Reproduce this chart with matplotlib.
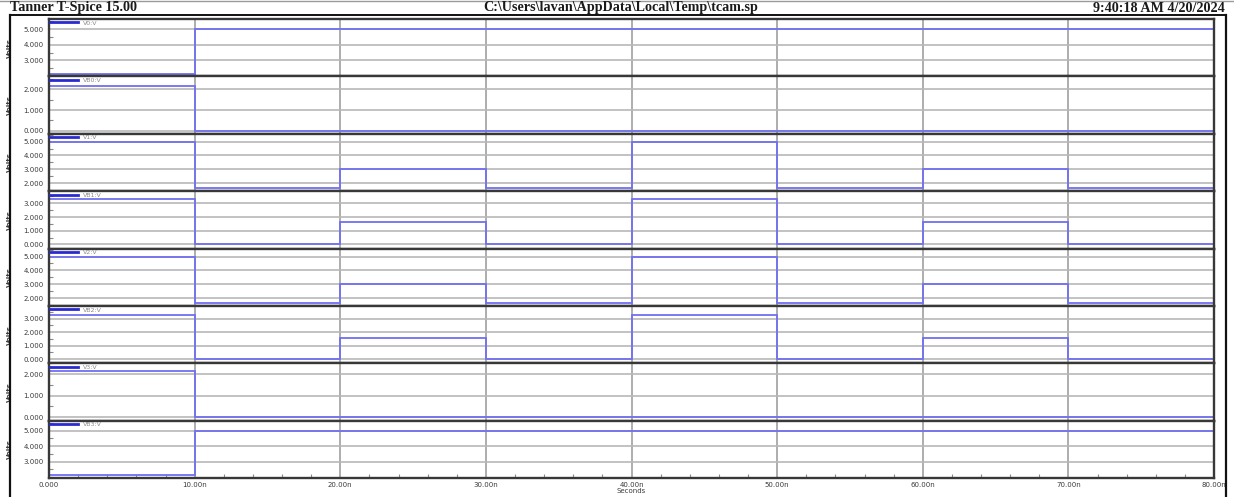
import matplotlib
matplotlib.use("Agg")
import matplotlib.pyplot as plt
from matplotlib.lines import Line2D
from matplotlib.ticker import FixedLocator, MultipleLocator, FuncFormatter

# Simulation time breakpoints (ns) and the level held in each 10 ns interval
time_ns = [0, 10, 20, 30, 40, 50, 60, 70, 80]

v0 = [2.15, 5.0, 5.0, 5.0, 5.0, 5.0, 5.0, 5.0]
vb0 = [2.15, 0.0, 0.0, 0.0, 0.0, 0.0, 0.0, 0.0]
v1 = [5.0, 1.65, 3.0, 1.65, 5.0, 1.65, 3.0, 1.65]
vb1 = [3.3, 0.0, 1.6, 0.0, 3.3, 0.0, 1.6, 0.0]
v2 = [5.0, 1.65, 3.0, 1.65, 5.0, 1.65, 3.0, 1.65]
vb2 = [3.3, 0.0, 1.6, 0.0, 3.3, 0.0, 1.6, 0.0]
v3 = [2.15, 0.0, 0.0, 0.0, 0.0, 0.0, 0.0, 0.0]
vb3 = [2.13, 5.0, 5.0, 5.0, 5.0, 5.0, 5.0, 5.0]

trace_names = ["V0:V", "VB0:V", "V1:V", "VB1:V", "V2:V", "VB2:V", "V3:V", "VB3:V"]
traces = [v0, vb0, v1, vb1, v2, vb2, v3, vb3]

# Per-panel y tick values and axis ranges
y_ticks = [
    [3, 4, 5], [0, 1, 2], [2, 3, 4, 5], [0, 1, 2, 3],
    [2, 3, 4, 5], [0, 1, 2, 3], [0, 1, 2], [3, 4, 5],
]
y_limits = [
    (1.98, 5.65), (-0.15, 2.63), (1.41, 5.58), (-0.30, 3.89),
    (1.44, 5.58), (-0.30, 3.94), (-0.16, 2.50), (1.95, 5.65),
]
x_ticks = [0, 10, 20, 30, 40, 50, 60, 70, 80]

W, H = 1234, 497
fig = plt.figure(figsize=(W / 100, H / 100), dpi=100)
fig.patch.set_facecolor("white")

gs = fig.add_gridspec(
    8, 1, left=49 / W, right=1214 / W, top=1 - 19 / H, bottom=1 - 478 / H, hspace=0
)

trace_color = "#7070f0"
frame_color = "#383838"

for i, (name, vals) in enumerate(zip(trace_names, traces)):
    ax = fig.add_subplot(gs[i, 0])
    ax.set_axisbelow(True)
    ax.plot(time_ns, vals + [vals[-1]], drawstyle="steps-post",
            color=trace_color, lw=1.3, solid_joinstyle="miter")
    ax.set_xlim(0, 80)
    ax.set_ylim(*y_limits[i])

    ax.yaxis.set_major_locator(FixedLocator(y_ticks[i]))
    ax.yaxis.set_minor_locator(MultipleLocator(0.5))
    ax.yaxis.set_major_formatter(FuncFormatter(lambda v, p: f"{v:.3f}"))
    ax.set_xticks(x_ticks)
    ax.xaxis.set_minor_locator(MultipleLocator(2))

    ax.grid(axis="y", which="major", color="#b8b8b8", lw=1.2)
    ax.grid(axis="x", which="major", color="#a0a0a0", lw=1.2)

    ax.tick_params(axis="y", which="major", length=0, labelsize=5,
                   labelcolor="#3a3a3a", pad=4)
    ax.tick_params(axis="y", which="minor", direction="in", length=3,
                   color="#8c8c8c", width=0.8)

    for sp in ax.spines.values():
        sp.set_color(frame_color)
        sp.set_linewidth(1.7)

    ax.set_ylabel("Volts", fontsize=5, color="#404040", weight="bold")
    ax.yaxis.set_label_coords(-0.031, 0.5)

    handle = Line2D([], [], color="#2a2ad0", lw=2)
    ax.legend([handle], [name], loc="upper left", frameon=False, fontsize=4.5,
              handlelength=4.4, handletextpad=0.8, borderaxespad=0.1,
              borderpad=0.1, labelcolor="#8a8a8a")

    if i < 7:
        ax.tick_params(axis="x", which="both", length=0, labelbottom=False)
    else:
        ax.set_xticklabels(["0.000" if t == 0 else f"{t:.2f}n" for t in x_ticks])
        ax.tick_params(axis="x", which="major", length=0, labelsize=5,
                       labelcolor="#3a3a3a", pad=3)
        ax.tick_params(axis="x", which="minor", direction="in", length=3,
                       color="#8c8c8c", width=0.8)
        ax.set_xlabel("Seconds", fontsize=5, color="#3a3a3a", labelpad=0)

# Window header
serif = ["Liberation Serif", "DejaVu Serif"]
hdr = dict(family=serif, fontsize=10.2, weight="bold", color="#1a1a1a", va="center")
fig.text(10 / W, 1 - 8 / H, "Tanner T-Spice 15.00", ha="left", **hdr)
fig.text(621 / W, 1 - 8 / H, r"C:\Users\lavan\AppData\Local\Temp\tcam.sp",
         ha="center", **hdr)
fig.text(1225 / W, 1 - 8 / H, "9:40:18 AM 4/20/2024", ha="right", **hdr)

# Outer window frame
fx0, fx1 = 10 / W, 1226 / W
fy_top = 1 - 15 / H
for xs, ys, c, lw in [
    ([fx0, fx0], [0, fy_top], "#111111", 1.6),
    ([fx1, fx1], [0, fy_top], "#111111", 1.6),
    ([fx0, fx1], [fy_top, fy_top], "#111111", 1.4),
    ([0, 1], [1 - 1 / H, 1 - 1 / H], "#9a9a9a", 1.0),
]:
    fig.add_artist(Line2D(xs, ys, transform=fig.transFigure, color=c, lw=lw))

fig.savefig("out.png", dpi=100, facecolor="white")
